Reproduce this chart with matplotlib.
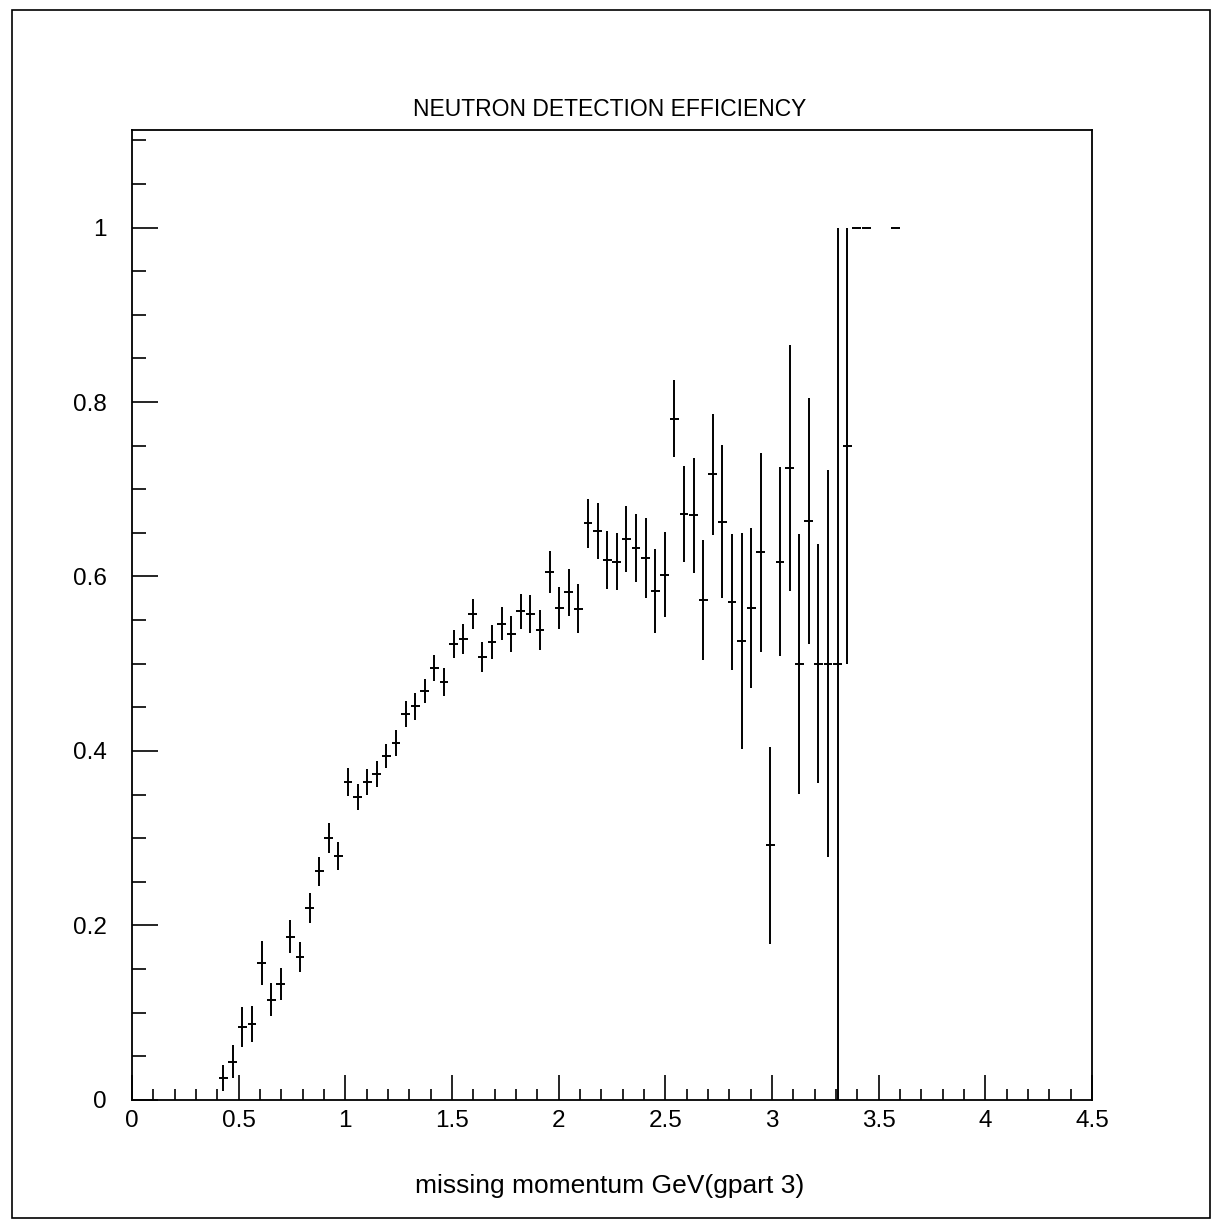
import matplotlib.pyplot as plt
from matplotlib.patches import Rectangle
from matplotlib.ticker import MultipleLocator

# bin centres (GeV), efficiency and statistical errors
momentum = [0.4275, 0.4725, 0.5175, 0.5625, 0.6075, 0.6525, 0.6975, 0.7425,
            0.7875, 0.8325, 0.8775, 0.9225, 0.9675, 1.0125, 1.0575, 1.1025,
            1.1475, 1.1925, 1.2375, 1.2825, 1.3275, 1.3725, 1.4175, 1.4625,
            1.5075, 1.5525, 1.5975, 1.6425, 1.6875, 1.7325, 1.7775, 1.8225,
            1.8675, 1.9125, 1.9575, 2.0025, 2.0475, 2.0925, 2.1375, 2.1825,
            2.2275, 2.2725, 2.3175, 2.3625, 2.4075, 2.4525, 2.4975, 2.5425,
            2.5875, 2.6325, 2.6775, 2.7225, 2.7675, 2.8125, 2.8575, 2.9025,
            2.9475, 2.9925, 3.0375, 3.0825, 3.1275, 3.1725, 3.2175, 3.2625,
            3.3075, 3.3525, 3.3975, 3.4425, 3.5775]
efficiency = [0.025, 0.044, 0.084, 0.087, 0.157, 0.115, 0.133, 0.187,
              0.164, 0.220, 0.262, 0.300, 0.280, 0.364, 0.347, 0.364,
              0.374, 0.394, 0.409, 0.442, 0.451, 0.469, 0.495, 0.479,
              0.523, 0.528, 0.557, 0.508, 0.525, 0.546, 0.534, 0.560,
              0.557, 0.539, 0.605, 0.564, 0.582, 0.563, 0.661, 0.652,
              0.619, 0.617, 0.643, 0.633, 0.621, 0.583, 0.602, 0.781,
              0.672, 0.670, 0.573, 0.717, 0.663, 0.571, 0.526, 0.564,
              0.628, 0.292, 0.617, 0.724, 0.500, 0.664, 0.500, 0.500,
              0.500, 0.750, 1.000, 1.000, 1.000]
eff_error = [0.015, 0.019, 0.023, 0.021, 0.025, 0.019, 0.018, 0.019,
             0.017, 0.017, 0.017, 0.017, 0.016, 0.016, 0.015, 0.015,
             0.015, 0.014, 0.015, 0.015, 0.015, 0.014, 0.015, 0.016,
             0.016, 0.017, 0.017, 0.017, 0.019, 0.019, 0.021, 0.020,
             0.022, 0.023, 0.024, 0.024, 0.027, 0.028, 0.028, 0.032,
             0.033, 0.033, 0.038, 0.039, 0.046, 0.048, 0.049, 0.044,
             0.055, 0.066, 0.069, 0.069, 0.088, 0.078, 0.124, 0.092,
             0.114, 0.113, 0.108, 0.141, 0.149, 0.141, 0.137, 0.222,
             0.500, 0.250, 0.0, 0.0, 0.0]
half_bin = 0.0225

plt.rcParams['font.family'] = ['Liberation Sans', 'DejaVu Sans']

fig = plt.figure(figsize=(12.2, 12.2), dpi=100)
ax = fig.add_axes([0.1082, 0.0984, 0.7869, 0.7952])

ax.errorbar(momentum, efficiency, yerr=eff_error, xerr=half_bin * 0.9,
            fmt='none', ecolor='black', elinewidth=1.4, capsize=0)

ax.set_xlim(0, 4.5)
ax.set_ylim(0, 1.112)
ax.xaxis.set_major_locator(MultipleLocator(0.5))
ax.xaxis.set_minor_locator(MultipleLocator(0.1))
ax.yaxis.set_major_locator(MultipleLocator(0.2))
ax.yaxis.set_minor_locator(MultipleLocator(0.05))
ax.xaxis.set_major_formatter(plt.FuncFormatter(lambda v, p: f'{v:g}'))
ax.yaxis.set_major_formatter(plt.FuncFormatter(lambda v, p: f'{v:g}'))

ax.tick_params(axis='both', which='both', direction='in', top=False, right=False,
               width=1.2, labelsize=17.5)
ax.tick_params(axis='x', which='major', length=18, pad=7)
ax.tick_params(axis='x', which='minor', length=8)
ax.tick_params(axis='y', which='major', length=19, pad=18)
ax.tick_params(axis='y', which='minor', length=10)
for s in ax.spines.values():
    s.set_linewidth(1.3)

fig.text(0.5, 0.9105, 'NEUTRON DETECTION EFFICIENCY', ha='center', va='center',
         fontsize=16.5)
fig.text(0.5, 0.028, 'missing momentum GeV(gpart 3)', ha='center', va='center',
         fontsize=19)

# outer frame
fig.add_artist(Rectangle((12 / 1220, 2 / 1220), 1198 / 1220, 1208 / 1220,
                         transform=fig.transFigure, fill=False,
                         edgecolor='black', linewidth=1.2))

fig.savefig('out.png', dpi=100)
